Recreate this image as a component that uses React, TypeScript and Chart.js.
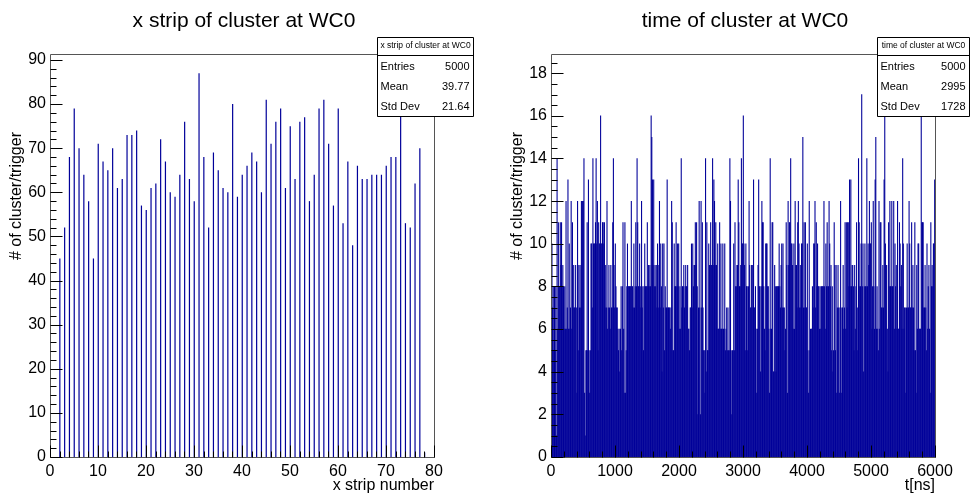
import React, { useEffect, useRef } from "react";
import { Chart, registerables } from "chart.js";

Chart.register(...registerables);

// ---------- Left histogram: x strip of cluster at WC0 ----------
const stripNumbers = [
  2, 3, 4, 5, 6, 7, 8, 9, 10, 11, 12, 13, 14, 15, 16, 17, 18, 19, 20, 21,
  22, 23, 24, 25, 26, 27, 28, 29, 30, 31, 32, 33, 34, 35, 36, 37, 38, 39, 40,
  41, 42, 43, 44, 45, 46, 47, 48, 49, 50, 51, 52, 53, 54, 55, 56, 57, 58, 59,
  60, 61, 62, 63, 64, 65, 66, 67, 68, 69, 70, 71, 72, 73, 74, 75, 76, 77, 78,
];
const stripCounts = [
  45, 52, 68, 79, 70, 64, 58, 45, 71, 67, 65, 70, 61, 63, 73, 73, 74, 57, 56, 61,
  62, 72, 67, 60, 59, 64, 76, 63, 58, 87, 68, 52, 69, 65, 61, 60, 80, 59, 64,
  66, 69, 67, 60, 81, 71, 76, 79, 61, 75, 63, 76, 77, 58, 64, 79, 81, 71, 57,
  79, 53, 67, 48, 66, 63, 63, 64, 64, 64, 66, 68, 68, 78, 53, 52, 62, 70, 1,
];
const stripXTicks = [0, 10, 20, 30, 40, 50, 60, 70, 80];
const stripYTicks = [0, 10, 20, 30, 40, 50, 60, 70, 80, 90];

// ---------- Right histogram: time of cluster at WC0 (10 ns bins) ----------
const timeBinWidth = 10;
const timeCounts = [
  // 0 - 1000 ns
  11, 10, 7, 8, 5, 8, 5, 8, 1, 14, 6, 11, 8, 8, 11, 9, 11, 8, 9, 8, 6, 8, 6, 12, 6,
  7, 13, 6, 10, 6, 7, 12, 6, 11, 7, 9, 7, 7, 9, 7, 3, 12, 5, 9, 7, 9, 7, 12, 12, 12,
  12, 14, 3, 1, 5, 5, 11, 5, 13, 5, 3, 5, 10, 10, 7, 14, 10, 10, 10, 11, 14, 10, 12, 5, 11,
  10, 10, 16, 10, 10, 11, 11, 10, 11, 7, 9, 7, 12, 6, 7, 9, 7, 6, 9, 7, 7, 11, 14, 9, 7,
  // 1000 - 2000 ns
  10, 8, 7, 7, 6, 5, 6, 4, 6, 8, 5, 8, 11, 6, 3, 11, 3, 5, 8, 10, 8, 8, 8, 8, 8,
  12, 8, 8, 7, 10, 7, 8, 11, 8, 14, 11, 8, 8, 10, 8, 7, 12, 7, 8, 5, 8, 10, 8, 8, 8,
  11, 8, 9, 8, 9, 8, 16, 15, 13, 9, 13, 8, 9, 8, 9, 7, 10, 7, 9, 12, 7, 10, 8, 4, 10,
  7, 10, 5, 8, 7, 7, 13, 7, 7, 7, 7, 6, 7, 12, 11, 5, 5, 10, 8, 8, 11, 8, 10, 8, 10,
  // 2000 - 3000 ns
  6, 8, 6, 14, 7, 8, 8, 9, 7, 8, 9, 8, 8, 9, 6, 6, 5, 7, 7, 10, 7, 10, 8, 9, 9,
  11, 9, 11, 8, 2, 7, 12, 7, 2, 12, 7, 11, 7, 5, 5, 3, 14, 4, 11, 5, 5, 10, 9, 9, 11,
  9, 9, 14, 9, 13, 12, 9, 11, 9, 6, 10, 6, 6, 11, 6, 10, 6, 6, 10, 6, 6, 10, 5, 6, 7,
  5, 7, 5, 5, 14, 12, 5, 2, 5, 5, 10, 5, 11, 8, 8, 9, 9, 13, 11, 8, 8, 9, 14, 10, 10,
  // 3000 - 4000 ns
  16, 10, 9, 5, 10, 8, 8, 5, 8, 12, 9, 7, 7, 9, 9, 7, 13, 7, 7, 8, 6, 3, 6, 9, 13,
  8, 8, 4, 8, 12, 11, 11, 8, 6, 5, 10, 10, 10, 8, 8, 6, 3, 14, 6, 6, 11, 11, 4, 4, 9,
  8, 4, 8, 8, 8, 8, 10, 8, 7, 9, 10, 7, 10, 7, 7, 5, 6, 11, 9, 3, 12, 9, 11, 11, 14,
  10, 10, 9, 6, 10, 6, 12, 9, 9, 7, 11, 12, 10, 7, 9, 7, 10, 10, 15, 7, 11, 7, 11, 7, 7,
  // 4000 - 5000 ns
  10, 5, 3, 12, 5, 6, 6, 6, 8, 7, 10, 10, 12, 7, 11, 8, 10, 8, 8, 6, 8, 6, 8, 8, 8,
  8, 12, 8, 6, 10, 8, 11, 8, 8, 12, 10, 8, 9, 5, 8, 4, 5, 11, 9, 5, 9, 3, 7, 9, 7,
  3, 7, 12, 3, 7, 7, 9, 6, 7, 11, 6, 11, 7, 11, 11, 8, 13, 8, 13, 8, 9, 9, 8, 5, 9,
  6, 8, 11, 7, 5, 14, 11, 8, 8, 10, 17, 8, 10, 4, 8, 10, 8, 8, 14, 8, 10, 9, 12, 10, 10,
  // 5000 - 6000 ns
  11, 6, 8, 12, 8, 6, 13, 15, 6, 8, 6, 5, 12, 6, 11, 11, 7, 7, 9, 7, 13, 16, 10, 9, 9,
  6, 4, 11, 8, 12, 8, 8, 12, 8, 8, 12, 6, 10, 8, 9, 6, 12, 6, 6, 11, 10, 8, 9, 6, 14,
  10, 6, 7, 7, 3, 7, 10, 7, 7, 12, 10, 7, 7, 11, 7, 9, 7, 5, 11, 5, 3, 9, 6, 10, 10,
  6, 6, 6, 18, 11, 11, 11, 7, 7, 9, 7, 5, 10, 6, 8, 9, 6, 3, 11, 8, 9, 8, 10, 10, 13,
];
const timeXTicks = [0, 1000, 2000, 3000, 4000, 5000, 6000];
const timeYTicks = [0, 2, 4, 6, 8, 10, 12, 14, 16, 18];

const FONT = "'Liberation Sans', Arial, Helvetica, sans-serif";
const HIST_COLOR = "#000099";

type PanelCfg = {
  title: string;
  titleX: number;
  xTitle: string;
  yTitle: string;
  xTicks: number[];
  yTicks: number[];
  xMinorStep: number;
  yMinorStep: number;
  stats: { name: string; entries: string; mean: string; std: string; x1: number; x2: number };
};

function makePanelPlugin(cfg: PanelCfg) {
  return {
    id: "rootPanel",
    afterDatasetsDraw(chart: any) {
      const { ctx, chartArea: a, scales } = chart;
      const xs = scales.x;
      const ys = scales.y;
      const L = Math.floor(a.left) + 0.5;
      const R = Math.floor(a.right) + 0.5;
      const T = Math.floor(a.top) + 0.5;
      const B = Math.floor(a.bottom) + 0.5;
      ctx.save();

      // frame
      ctx.strokeStyle = "#555";
      ctx.lineWidth = 1;
      ctx.beginPath();
      ctx.moveTo(L, T);
      ctx.lineTo(R, T);
      ctx.lineTo(R, B);
      ctx.lineTo(L, B);
      ctx.closePath();
      ctx.stroke();

      // ticks
      ctx.strokeStyle = "#000";
      ctx.beginPath();
      const isMajor = (v: number, arr: number[]) => arr.some((t) => Math.abs(t - v) < 1e-6);
      for (let v = xs.min; v <= xs.max + 1e-6; v += cfg.xMinorStep) {
        const px = Math.round(xs.getPixelForValue(v)) + 0.5;
        const len = isMajor(v, cfg.xTicks) ? 12 : 6;
        ctx.moveTo(px, B);
        ctx.lineTo(px, B - len);
      }
      for (let v = ys.min; v <= ys.max + 1e-6; v += cfg.yMinorStep) {
        const py = Math.round(ys.getPixelForValue(v)) + 0.5;
        const len = isMajor(v, cfg.yTicks) ? 12 : 6;
        ctx.moveTo(L, py);
        ctx.lineTo(L + len, py);
      }
      ctx.stroke();

      // tick labels
      ctx.fillStyle = "#000";
      ctx.font = `16px ${FONT}`;
      ctx.textAlign = "center";
      ctx.textBaseline = "top";
      cfg.xTicks.forEach((v) => {
        ctx.fillText(String(v), xs.getPixelForValue(v), a.bottom + 7);
      });
      ctx.textAlign = "right";
      ctx.textBaseline = "middle";
      cfg.yTicks.forEach((v) => {
        ctx.fillText(String(v), a.left - 4, ys.getPixelForValue(v));
      });

      // axis titles
      ctx.textAlign = "right";
      ctx.textBaseline = "alphabetic";
      ctx.fillText(cfg.xTitle, a.right, 490);
      ctx.save();
      ctx.translate(a.left - 28, 132);
      ctx.rotate(-Math.PI / 2);
      ctx.textAlign = "right";
      ctx.textBaseline = "middle";
      ctx.fillText(cfg.yTitle, 0, -5);
      ctx.restore();

      // main title
      ctx.font = `21px ${FONT}`;
      ctx.textAlign = "center";
      ctx.textBaseline = "middle";
      ctx.fillText(cfg.title, cfg.titleX, 21);

      // stats box
      const s = cfg.stats;
      const y1 = 37.5;
      const y2 = 116.5;
      const bx1 = s.x1 + 0.5;
      const bx2 = s.x2 + 0.5;
      ctx.fillStyle = "#fff";
      ctx.fillRect(bx1, y1, bx2 - bx1, y2 - y1);
      ctx.strokeStyle = "#000";
      ctx.beginPath();
      ctx.rect(bx1, y1, bx2 - bx1, y2 - y1);
      ctx.moveTo(bx1, 55.5);
      ctx.lineTo(bx2, 55.5);
      ctx.stroke();
      ctx.fillStyle = "#000";
      ctx.font = `8.5px ${FONT}`;
      ctx.textAlign = "center";
      ctx.fillText(s.name, (bx1 + bx2) / 2, 46);
      ctx.font = `11px ${FONT}`;
      const rows: [string, string][] = [
        ["Entries", s.entries],
        ["Mean", s.mean],
        ["Std Dev", s.std],
      ];
      rows.forEach(([k, v], i) => {
        const yy = 67 + i * 20;
        ctx.textAlign = "left";
        ctx.fillText(k, bx1 + 3, yy);
        ctx.textAlign = "right";
        ctx.fillText(v, bx2 - 4, yy);
      });

      ctx.restore();
    },
  };
}

function HistPanel(props: {
  points: { x: number; y: number }[];
  xMax: number;
  yMax: number;
  padding: { left: number; right: number; top: number; bottom: number };
  thin: boolean;
  cfg: PanelCfg;
}) {
  const ref = useRef<HTMLCanvasElement | null>(null);
  useEffect(() => {
    if (!ref.current) return;
    const ds: any = {
      data: props.points,
      backgroundColor: HIST_COLOR,
      borderWidth: 0,
      grouped: false,
    };
    if (props.thin) {
      ds.barThickness = 1.2;
      ds.inflateAmount = 0;
    } else {
      ds.barPercentage = 1;
      ds.categoryPercentage = 1;
      ds.inflateAmount = 0.22;
    }
    const chart = new Chart(ref.current, {
      type: "bar",
      data: { datasets: [ds] },
      options: {
        responsive: false,
        maintainAspectRatio: false,
        animation: false,
        devicePixelRatio: 1,
        layout: { padding: props.padding },
        plugins: {
          legend: { display: false },
          tooltip: { enabled: false },
          title: { display: false },
        },
        scales: {
          x: { type: "linear", min: 0, max: props.xMax, display: false, offset: false },
          y: { type: "linear", min: 0, max: props.yMax, display: false },
        },
      } as any,
      plugins: [makePanelPlugin(props.cfg)],
    });
    return () => chart.destroy();
  }, []);
  return <canvas ref={ref} width={485} height={493} style={{ width: 485, height: 493, display: "block" }} />;
}

export default function App() {
  const stripPoints = stripNumbers.map((s, i) => ({ x: s + 0.05, y: stripCounts[i] }));
  const timePoints = timeCounts.map((c, i) => ({ x: i * timeBinWidth + timeBinWidth / 2, y: c }));
  const stripMax = Math.max(...stripCounts) * 1.05;
  const timeMax = Math.max(...timeCounts) * 1.05;
  return (
    <div
      style={{
        position: "fixed",
        left: 0,
        top: 0,
        width: 970,
        height: 493,
        background: "#fff",
        display: "flex",
      }}
    >
      <HistPanel
        points={stripPoints}
        xMax={80}
        yMax={stripMax}
        padding={{ left: 50, right: 51, top: 54, bottom: 36 }}
        thin={true}
        cfg={{
          title: "x strip of cluster at WC0",
          titleX: 244,
          xTitle: "x strip number",
          yTitle: "# of cluster/trigger",
          xTicks: stripXTicks,
          yTicks: stripYTicks,
          xMinorStep: 2,
          yMinorStep: 2,
          stats: { name: "x strip of cluster at WC0", entries: "5000", mean: "39.77", std: "21.64", x1: 377, x2: 473 },
        }}
      />
      <HistPanel
        points={timePoints}
        xMax={6000}
        yMax={timeMax}
        padding={{ left: 66, right: 35, top: 54, bottom: 36 }}
        thin={false}
        cfg={{
          title: "time of cluster at WC0",
          titleX: 260,
          xTitle: "t[ns]",
          yTitle: "# of cluster/trigger",
          xTicks: timeXTicks,
          yTicks: timeYTicks,
          xMinorStep: 200,
          yMinorStep: 0.5,
          stats: { name: "time of cluster at WC0", entries: "5000", mean: "2995", std: "1728", x1: 392, x2: 484 },
        }}
      />
    </div>
  );
}
